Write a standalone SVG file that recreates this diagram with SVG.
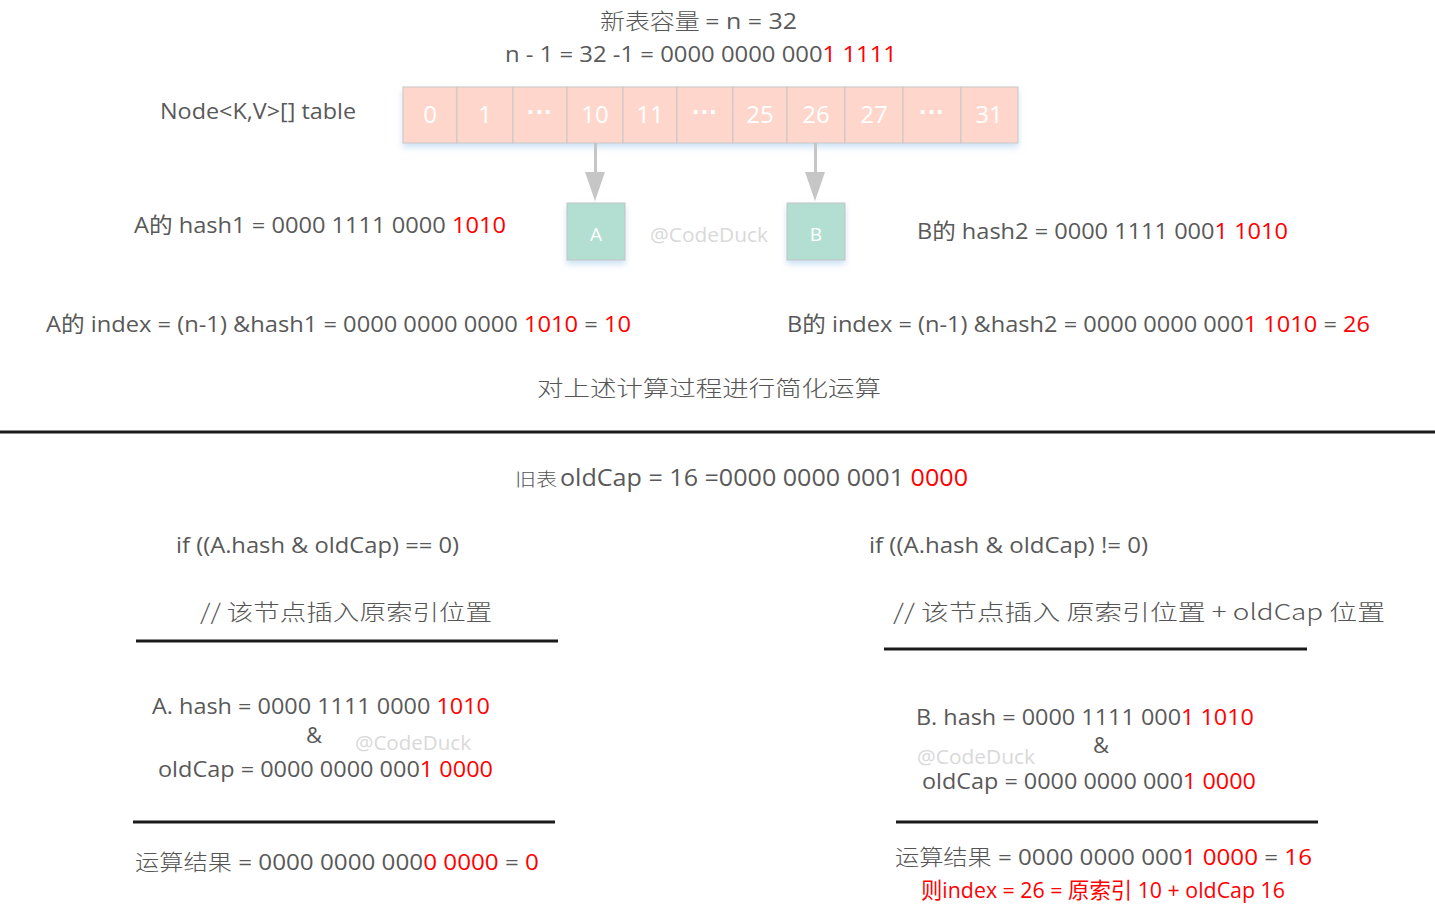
<svg xmlns="http://www.w3.org/2000/svg" width="1435" height="917" viewBox="0 0 1435 917">
<style>
.t{font-family:"Open Sans","Liberation Sans","Noto Sans CJK SC",sans-serif;fill:#595959;font-size:22px}
.k{font-family:"Noto Sans CJK SC",sans-serif;fill:#555;font-size:22px;font-weight:300}
.r{fill:#ff0000}
.cell{fill:#ffd6cc;stroke:#c8c8c8;stroke-width:1}
.cn{font-family:"Open Sans","Liberation Sans",sans-serif;fill:#fff;font-size:24px;text-anchor:middle}
.dots{font-family:"Liberation Sans",sans-serif;fill:#fff;font-size:26px;font-weight:bold;text-anchor:middle}
.box{fill:#b2dfd1;stroke:#c4c4c4;stroke-width:1}
.bl{font-family:"Open Sans","Liberation Sans",sans-serif;fill:#fff;font-size:19px;text-anchor:middle}
.wm{font-family:"Open Sans","Liberation Sans",sans-serif;fill:#d9d9d9;font-size:20px}
.rule{stroke:#1a1a1a;stroke-width:3}
</style>
<defs>
<filter id="sh" x="-10%" y="-10%" width="120%" height="140%">
<feDropShadow dx="0" dy="4" stdDeviation="3" flood-color="#9ec4ea" flood-opacity="0.5"/>
</filter>
</defs>
<rect width="1435" height="917" fill="#fff"/>

<g id="header">
<text class="k" x="600" y="29" textLength="197" lengthAdjust="spacingAndGlyphs">新表容量 <tspan class="t" style="font-weight:400">= n = 32</tspan></text>
<text class="t" x="505" y="62" textLength="392" lengthAdjust="spacingAndGlyphs">n - 1 =  32 -1 = 0000 0000 000<tspan class="r">1 1111</tspan></text>
<text class="t" x="160" y="119" textLength="196" lengthAdjust="spacingAndGlyphs">Node&lt;K,V&gt;[] table</text>
</g>

<g id="table" filter="url(#sh)">
<rect class="cell" x="403" y="87" width="54" height="56"/>
<rect class="cell" x="457" y="87" width="56" height="56"/>
<rect class="cell" x="513" y="87" width="54" height="56"/>
<rect class="cell" x="567" y="87" width="56" height="56"/>
<rect class="cell" x="623" y="87" width="54" height="56"/>
<rect class="cell" x="677" y="87" width="56" height="56"/>
<rect class="cell" x="733" y="87" width="54" height="56"/>
<rect class="cell" x="787" y="87" width="58" height="56"/>
<rect class="cell" x="845" y="87" width="58" height="56"/>
<rect class="cell" x="903" y="87" width="58" height="56"/>
<rect class="cell" x="961" y="87" width="57" height="56"/>
</g>
<g id="table-labels">
<text class="cn" x="430" y="123">0</text>
<text class="cn" x="485" y="123">1</text>
<text class="dots" x="540" y="121">···</text>
<text class="cn" x="595" y="123">10</text>
<text class="cn" x="650" y="123">11</text>
<text class="dots" x="705" y="121">···</text>
<text class="cn" x="760" y="123">25</text>
<text class="cn" x="816" y="123">26</text>
<text class="cn" x="874" y="123">27</text>
<text class="dots" x="932" y="121">···</text>
<text class="cn" x="989" y="123">31</text>
</g>

<g id="connectors" fill="#c6c6c6" stroke="none">
<rect x="594" y="143" width="3" height="30"/>
<polygon points="585,172 605,172 595,201"/>
<rect x="814" y="143" width="3" height="30"/>
<polygon points="805,172 825,172 815,201"/>
</g>

<g id="nodeA">
<rect class="box" x="567" y="203" width="58" height="57" filter="url(#sh)"/>
<text class="bl" x="596" y="241">A</text>
</g>
<g id="nodeB">
<rect class="box" x="787" y="203" width="58" height="57" filter="url(#sh)"/>
<text class="bl" x="816" y="241">B</text>
</g>
<text class="wm" x="650" y="242" textLength="118" lengthAdjust="spacingAndGlyphs">@CodeDuck</text>

<g id="hash-texts">
<text class="t" x="134" y="233" textLength="372" lengthAdjust="spacingAndGlyphs">A的 hash1 = 0000 1111 0000 <tspan class="r">1010</tspan></text>
<text class="t" x="917" y="239" textLength="371" lengthAdjust="spacingAndGlyphs">B的 hash2 = 0000 1111 000<tspan class="r">1 1010</tspan></text>
<text class="t" x="46" y="332" textLength="585" lengthAdjust="spacingAndGlyphs">A的 index = (n-1) &amp;hash1 = 0000 0000 0000 <tspan class="r">1010</tspan> = <tspan class="r">10</tspan></text>
<text class="t" x="787" y="332" textLength="583" lengthAdjust="spacingAndGlyphs">B的 index = (n-1) &amp;hash2 = 0000 0000 000<tspan class="r">1 1010</tspan> = <tspan class="r">26</tspan></text>
<text class="k" x="537" y="396" textLength="344" lengthAdjust="spacingAndGlyphs">对上述计算过程进行简化运算</text>
</g>

<line class="rule" x1="0" y1="432" x2="1435" y2="432"/>

<g id="oldcap">
<text class="k" x="515" y="486" style="font-size:18px" textLength="42" lengthAdjust="spacingAndGlyphs">旧表</text>
<text class="t" x="560" y="486" style="font-size:24px" textLength="408" lengthAdjust="spacingAndGlyphs">oldCap = 16 =0000 0000 0001 <tspan class="r">0000</tspan></text>
</g>

<g id="left-branch">
<text class="t" x="176" y="553" textLength="283" lengthAdjust="spacingAndGlyphs">if ((A.hash &amp; oldCap) == 0)</text>
<text class="k" x="200" y="620" textLength="292" lengthAdjust="spacingAndGlyphs">// 该节点插入原索引位置</text>
<line class="rule" x1="136" y1="641" x2="558" y2="641"/>
<text class="t" x="152" y="714" textLength="338" lengthAdjust="spacingAndGlyphs">A. hash = 0000 1111 0000 <tspan class="r">1010</tspan></text>
<text class="t" x="306" y="743">&amp;</text>
<text class="wm" x="355" y="750" textLength="116" lengthAdjust="spacingAndGlyphs">@CodeDuck</text>
<text class="t" x="158" y="777" textLength="335" lengthAdjust="spacingAndGlyphs">oldCap = 0000 0000 000<tspan class="r">1 0000</tspan></text>
<line class="rule" x1="133" y1="822" x2="555" y2="822"/>
<text class="t" x="135" y="870" textLength="404" lengthAdjust="spacingAndGlyphs"><tspan class="k">运算结果</tspan> = 0000 0000 000<tspan class="r">0 0000</tspan> = <tspan class="r">0</tspan></text>
</g>

<g id="right-branch">
<text class="t" x="869" y="553" textLength="279" lengthAdjust="spacingAndGlyphs">if ((A.hash &amp; oldCap) != 0)</text>
<text class="k" x="893" y="620" textLength="492" lengthAdjust="spacingAndGlyphs">// 该节点插入 原索引位置 + oldCap 位置</text>
<line class="rule" x1="884" y1="649" x2="1307" y2="649"/>
<text class="t" x="916" y="725" textLength="338" lengthAdjust="spacingAndGlyphs">B. hash = 0000 1111 000<tspan class="r">1 1010</tspan></text>
<text class="t" x="1093" y="753">&amp;</text>
<text class="wm" x="917" y="764" textLength="118" lengthAdjust="spacingAndGlyphs">@CodeDuck</text>
<text class="t" x="922" y="789" textLength="334" lengthAdjust="spacingAndGlyphs">oldCap = 0000 0000 000<tspan class="r">1 0000</tspan></text>
<line class="rule" x1="896" y1="822" x2="1318" y2="822"/>
<text class="t" x="895" y="865" textLength="417" lengthAdjust="spacingAndGlyphs"><tspan class="k">运算结果</tspan> = 0000 0000 000<tspan class="r">1 0000</tspan> = <tspan class="r">16</tspan></text>
<text class="t r" x="921" y="898" textLength="364" lengthAdjust="spacingAndGlyphs">则index = 26 = 原索引 10 + oldCap 16</text>
</g>
</svg>
